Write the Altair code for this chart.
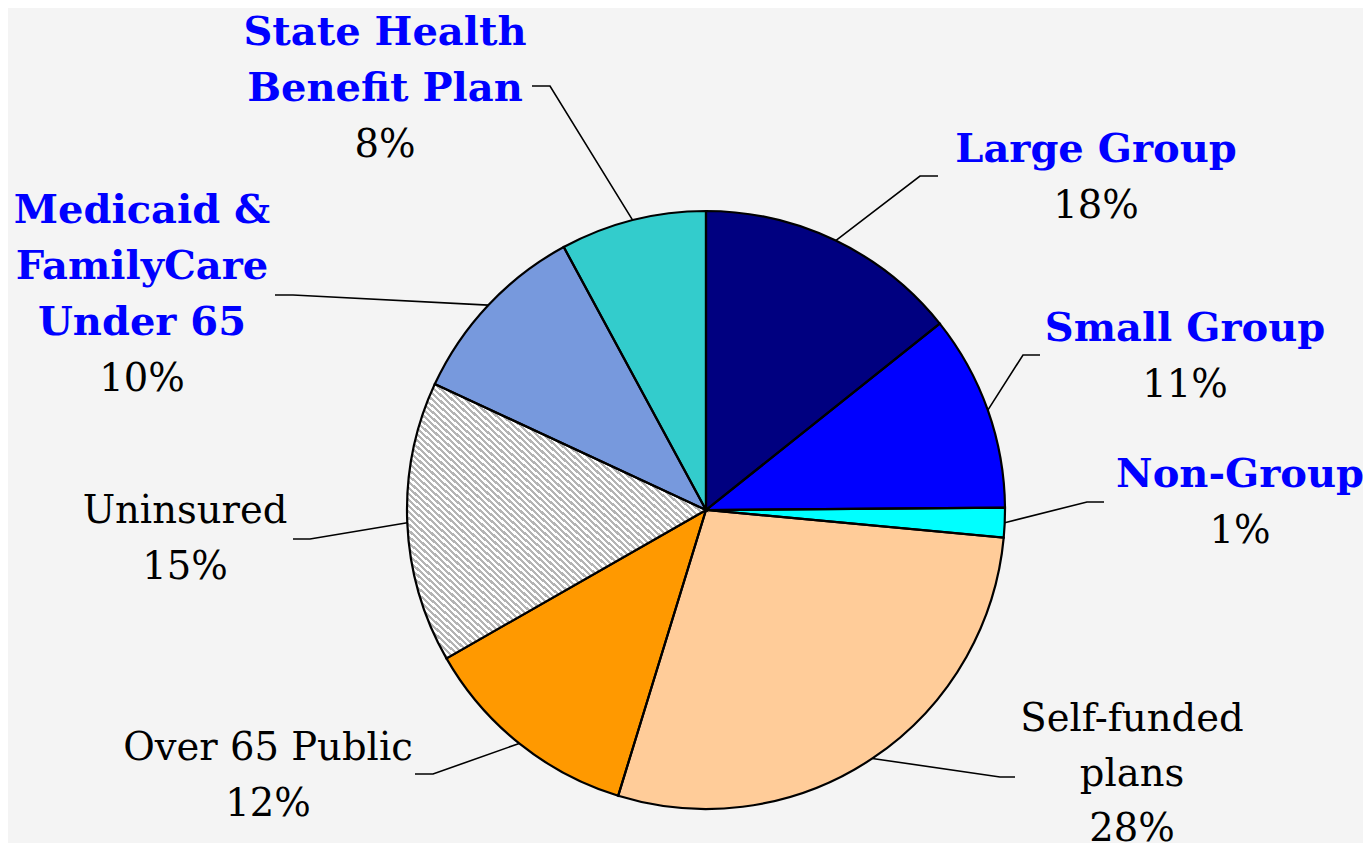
import altair as alt
import pandas as pd
import numpy as np

# ---------------- data ----------------
categories = ["Large Group", "Small Group", "Non-Group", "Self-funded plans",
              "Over 65 Public", "Uninsured", "Medicaid & FamilyCare Under 65",
              "State Health Benefit Plan"]
shares = [14.3, 10.6, 1.6, 28.3, 12.0, 15.2, 10.2, 7.9]
pct_labels = ["18%", "11%", "1%", "28%", "12%", "15%", "10%", "8%"]
label_lines = [["Large Group"], ["Small Group"], ["Non-Group"],
               ["Self-funded", "plans"], ["Over 65 Public"], ["Uninsured"],
               ["Medicaid &", "FamilyCare", "Under 65"],
               ["State Health", "Benefit Plan"]]

# ---------------- styles ----------------
slice_colors = ["#000080", "#0000FF", "#00FFFF", "#FFCC99", "#FF9900",
                "#FFFFFF", "#7799DD", "#33CCCC"]
hatched = [0, 0, 0, 0, 0, 1, 0, 0]
highlighted = [True, True, True, False, False, False, True, True]
BG = "#f4f4f4"
FONT = "DejaVu Serif"

# ---------------- layout (page pixel coordinates) ----------------
W, H = 1355, 835
CX, CY, R = 706, 510, 299
label_anchor = [(1096, 162), (1185, 341), (1240, 487), (1132, 731),
                (268, 760), (185, 523), (142, 223), (385, 45)]
line_step = [56, 56, 56, 55, 56, 56, 56, 56]
leader_elbow = [(920, 176), (1023, 355), (1087, 502), (1000, 777),
                (433, 774), (310, 539), (293, 295), (550, 86)]
leader_end = [(938, 176), (1040, 355), (1104, 502), (1015, 777),
              (415, 774), (293, 539), (275, 295), (532, 86)]

# ---------------- tables ----------------
pie_df = pd.DataFrame({"idx": range(len(categories)), "cat": categories,
                       "share": shares, "h": hatched})

vals = np.array(shares, dtype=float)
cum = np.cumsum(vals)
mid = (cum - vals / 2) / vals.sum() * 2 * np.pi
lead_rows = []
for i, c in enumerate(categories):
    sx = CX + R * np.sin(mid[i])
    sy = CY - R * np.cos(mid[i])
    pts = [(sx, sy), leader_elbow[i], leader_end[i]]
    for j, (px, py) in enumerate(pts):
        lead_rows.append({"cat": c, "o": j, "x": float(px), "y": float(py)})
lead_df = pd.DataFrame(lead_rows)

name_rows, pct_rows = [], []
for i, c in enumerate(categories):
    ax, ay = label_anchor[i]
    for k, line in enumerate(label_lines[i]):
        name_rows.append({"x": ax, "y": ay + k * line_step[i], "t": line,
                          "hl": highlighted[i]})
    pct_rows.append({"x": ax, "y": ay + len(label_lines[i]) * line_step[i],
                     "t": pct_labels[i]})
names_df = pd.DataFrame(name_rows)
pct_df = pd.DataFrame(pct_rows)

# hatch pattern as a hard-stop linear gradient
n_per = 90
p = 1.0 / n_per
stops = []
for k in range(n_per):
    a = round(k * p, 6)
    b = round(min(1.0, (k + 0.5) * p), 6)
    c2 = round(min(1.0, (k + 1) * p), 6)
    stops += [{"offset": a, "color": "#b4b4b4"},
              {"offset": b, "color": "#b4b4b4"},
              {"offset": b, "color": "#ffffff"},
              {"offset": c2, "color": "#ffffff"}]
hatch = {"gradient": "linear", "x1": 0, "y1": 1, "x2": 1, "y2": 0,
         "stops": stops}

# ---------------- chart ----------------
xs = alt.Scale(domain=[8, 8 + W], zero=False, nice=False)
ys = alt.Scale(domain=[8, 8 + H], zero=False, nice=False, reverse=True)

theta = alt.Theta("share:Q", stack=True)
order = alt.Order("idx:Q")

pie = alt.Chart(pie_df).mark_arc(radius=R, strokeWidth=0).encode(
    theta=theta, order=order,
    fill=alt.Fill("cat:N", scale=alt.Scale(domain=categories, range=slice_colors),
                  legend=None),
    x=alt.value(CX - 8), y=alt.value(CY - 8),
)

pie_hatch = alt.Chart(pie_df).mark_arc(radius=R, fill=hatch, stroke="black",
                                       strokeWidth=2.2, strokeOpacity=1).encode(
    theta=theta, order=order,
    fillOpacity=alt.FillOpacity("h:Q", scale=None, legend=None),
    x=alt.value(CX - 8), y=alt.value(CY - 8),
)

leaders = alt.Chart(lead_df).mark_line(color="black", strokeWidth=1.6).encode(
    x=alt.X("x:Q", scale=xs, axis=None),
    y=alt.Y("y:Q", scale=ys, axis=None),
    detail="cat:N", order="o:Q",
)

names_blue = alt.Chart(names_df).transform_filter("datum.hl").mark_text(
    font=FONT, fontSize=40, fontWeight="bold", color="#0000FF",
    align="center", baseline="alphabetic").encode(
    x=alt.X("x:Q", scale=xs, axis=None),
    y=alt.Y("y:Q", scale=ys, axis=None),
    text="t:N",
)

names_black = alt.Chart(names_df).transform_filter("!datum.hl").mark_text(
    font=FONT, fontSize=38.5, color="black",
    align="center", baseline="alphabetic").encode(
    x=alt.X("x:Q", scale=xs, axis=None),
    y=alt.Y("y:Q", scale=ys, axis=None),
    text="t:N",
)

pcts = alt.Chart(pct_df).mark_text(
    font=FONT, fontSize=38.5, color="black",
    align="center", baseline="alphabetic").encode(
    x=alt.X("x:Q", scale=xs, axis=None),
    y=alt.Y("y:Q", scale=ys, axis=None),
    text="t:N",
)

chart = alt.layer(pie, pie_hatch, leaders, names_blue, names_black, pcts).properties(
    width=W, height=H, background=BG, padding=0,
    autosize=alt.AutoSizeParams(type="none"),
).configure_view(stroke=None)

chart.save("out.html", embed_options={"renderer": "svg", "actions": False})
